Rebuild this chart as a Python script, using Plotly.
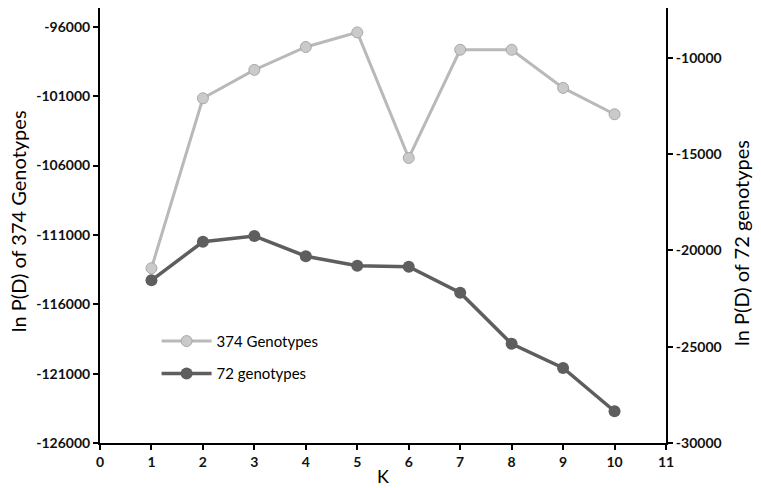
import plotly.graph_objects as go

k_values = [1, 2, 3, 4, 5, 6, 7, 8, 9, 10]
lnpd_374 = [-113400, -101150, -99100, -97450, -96400, -105450, -97650, -97650, -100400, -102300]
lnpd_72 = [-21550, -19550, -19250, -20300, -20800, -20850, -22200, -24850, -26100, -28350]

left_ticks = [-126000, -121000, -116000, -111000, -106000, -101000, -96000]
right_ticks = [-30000, -25000, -20000, -15000, -10000]
x_ticks = list(range(0, 12))

fig = go.Figure()

fig.add_trace(go.Scatter(
    x=k_values, y=lnpd_374, name="374 Genotypes", legendgroup="a",
    mode="lines+markers",
    line=dict(color="#b9b9b9", width=3),
    marker=dict(size=11, color="#cacaca", line=dict(color="#a9a9a9", width=1)),
))
fig.add_trace(go.Scatter(
    x=k_values, y=lnpd_72, name="72 genotypes", legendgroup="b",
    mode="lines+markers", yaxis="y2",
    line=dict(color="#5e5e5e", width=3.5),
    marker=dict(size=12, color="#5e5e5e"),
))

tickfont = dict(family="Lato", size=14, color="#111111", weight="bold")
axis_common = dict(
    showgrid=False, zeroline=False, showline=True, linecolor="black", linewidth=2,
    ticks="outside", ticklen=5, tickwidth=2, tickcolor="black", tickfont=tickfont,
)

# page is shifted 8px by the body margin, so the figure is drawn 8px smaller
fig.update_layout(
    width=753, height=480,
    margin=dict(l=92, r=95, t=0, b=45),
    paper_bgcolor="white", plot_bgcolor="white",
    font=dict(family="Lato", color="black"),
    xaxis=dict(range=[0, 11], tickvals=x_ticks, **axis_common),
    yaxis=dict(range=[-126000, -94640], tickvals=left_ticks,
               ticktext=[str(v) for v in left_ticks], **axis_common),
    yaxis2=dict(range=[-30000, -7410], tickvals=right_ticks,
                ticktext=[str(v) for v in right_ticks],
                overlaying="y", side="right", **axis_common),
    showlegend=True,
    legend=dict(
        x=0.1, y=0.197, xanchor="left", yanchor="middle",
        font=dict(family="Lato", size=15, color="black"),
        bgcolor="rgba(0,0,0,0)", tracegroupgap=10, itemwidth=50,
    ),
    annotations=[
        dict(text="K", x=0.5, y=-0.076, xref="paper", yref="paper", showarrow=False,
             xanchor="center", yanchor="middle", font=dict(family="Lato", size=18)),
        dict(text="ln P(D) of 374 Genotypes", x=(18 - 100) / 566, y=0.51,
             xref="paper", yref="paper", xanchor="center", yanchor="middle",
             textangle=-90, showarrow=False, font=dict(family="Lato", size=20)),
        dict(text="ln P(D) of 72 genotypes", x=(741 - 100) / 566, y=0.46,
             xref="paper", yref="paper", xanchor="center", yanchor="middle",
             textangle=-90, showarrow=False, font=dict(family="Lato", size=20)),
    ],
)

fig.write_html("out.html")
